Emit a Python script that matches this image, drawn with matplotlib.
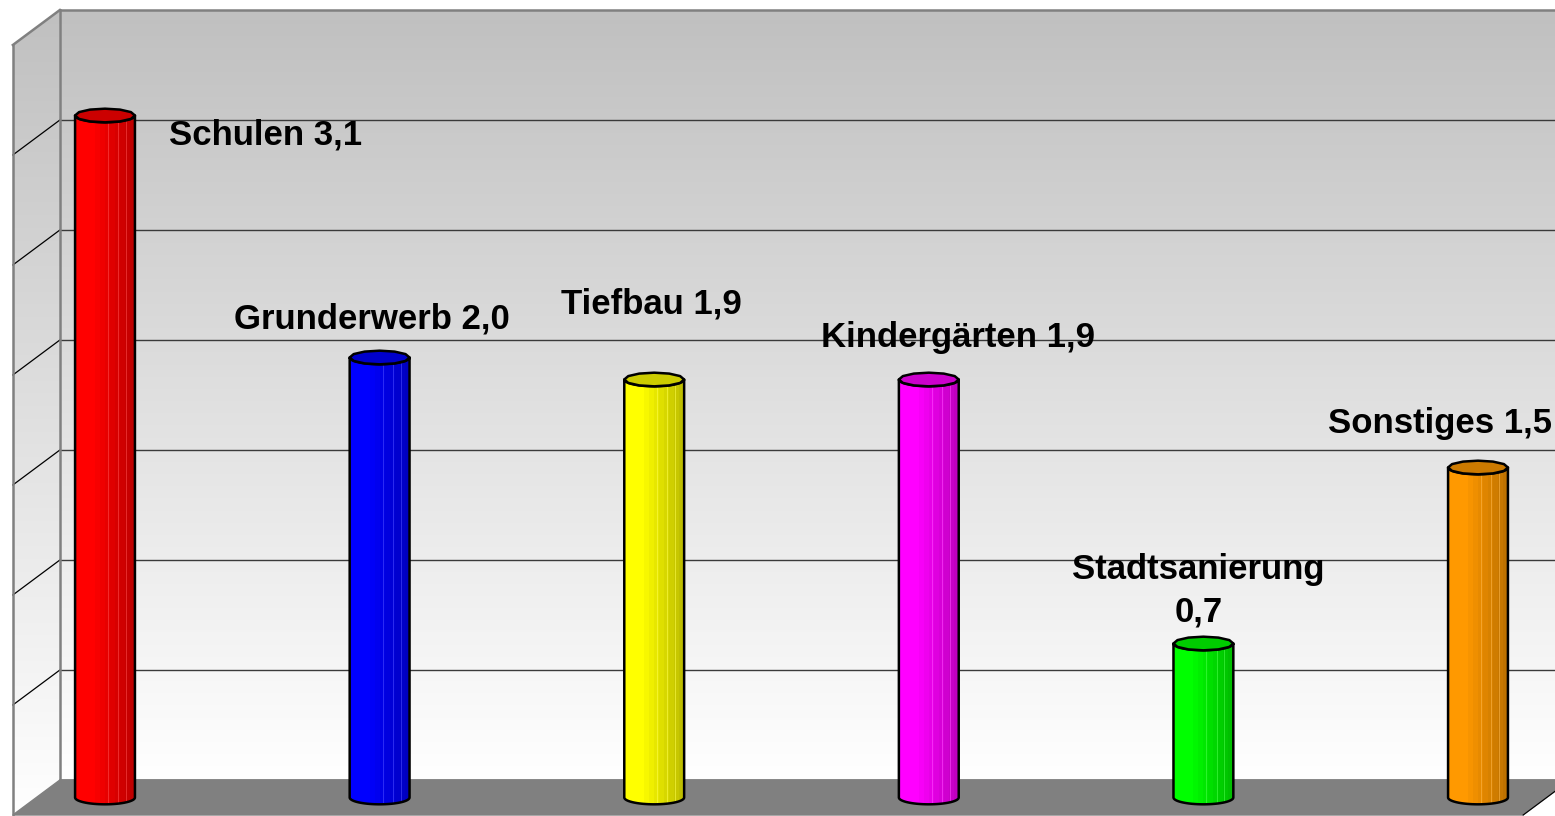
import numpy as np
import matplotlib
matplotlib.use("Agg")
import matplotlib.pyplot as plt
from matplotlib.patches import Polygon
from matplotlib.colors import to_rgb

# ---------------- data ----------------
categories = ["Schulen", "Grunderwerb", "Tiefbau", "Kindergärten", "Stadtsanierung", "Sonstiges"]
values = [3.1, 2.0, 1.9, 1.9, 0.7, 1.5]
bar_colors = ["#ff0000", "#0000ff", "#ffff00", "#ff00ff", "#00ff00", "#ff9900"]
grid_values = [0.5, 1.0, 1.5, 2.0, 2.5, 3.0]
y_top = 3.5

# ---------------- layout ----------------
label_sep = [" ", " ", " ", " ", "\n", " "]
label_dx = [0.586, -0.028, -0.012, 0.108, -0.018, -0.138]
label_dy = [-0.134, 0.13, 0.302, 0.148, 0.098, 0.157]

W, H = 1555, 816
fig = plt.figure(figsize=(W / 100, H / 100), dpi=100)
ax = fig.add_axes([0, 0, 1, 1])
ax.set_xlim(-0.3824, 5.2804)
ax.set_ylim(-0.0841, 3.625)
ax.axis("off")

# depth offsets (full depth, data units) front -> back
DX, DY = 0.1712, 0.159
XL, XR = -0.25, 5.25


def P(x, y, d):
    """point at depth d (-0.5 front .. 0.5 back) relative to bar plane"""
    return (x + d * DX, y + d * DY)


def gradient_fill(poly_pts, zorder):
    poly = Polygon(poly_pts, closed=True, facecolor="none", edgecolor="none")
    ax.add_patch(poly)
    ys = np.linspace(0, 1, 256)
    g = 1.0 - (1.0 - 192 / 255) * ys
    img = np.dstack([g, g, g]).reshape(256, 1, 3)
    xs = [p[0] for p in poly_pts]
    yv = [p[1] for p in poly_pts]
    im = ax.imshow(img, extent=[min(xs), max(xs), min(yv), max(yv)], origin="lower",
                   aspect="auto", interpolation="bilinear", zorder=zorder)
    im.set_clip_path(poly)


back_wall = [P(XL, 0, 0.5), P(XR, 0, 0.5), P(XR, y_top, 0.5), P(XL, y_top, 0.5)]
side_wall = [P(XL, 0, -0.5), P(XL, 0, 0.5), P(XL, y_top, 0.5), P(XL, y_top, -0.5)]
floor = [P(XL, 0, -0.5), P(XL, 0, 0.5), P(XR, 0, 0.5), P(XR, 0, -0.5)]

gradient_fill(back_wall, 1)
gradient_fill(side_wall, 1)
ax.add_patch(Polygon(floor, closed=True, facecolor="#808080", edgecolor="#808080", lw=1, zorder=2))

# gridlines
for g in grid_values:
    a, b = P(XL, g, 0.5), P(XR, g, 0.5)
    ax.plot([a[0], b[0]], [a[1], b[1]], color="#3a3a3a", lw=1.0, zorder=3)
    c, d = P(XL, g, -0.5), P(XL, g, 0.5)
    ax.plot([c[0], d[0]], [c[1], d[1]], color="#000000", lw=0.9, zorder=3)

# wall borders
edge_kw = dict(color="#808080", lw=1.8, zorder=3, solid_capstyle="projecting")
for seg in [
    (P(XL, 0, 0.5), P(XL, y_top, 0.5)),
    (P(XL, y_top, 0.5), P(XR, y_top, 0.5)),
    (P(XL, 0, -0.5), P(XL, y_top, -0.5)),
    (P(XL, y_top, -0.5), P(XL, y_top, 0.5)),
    (P(XL, 0, 0.5), P(XR, 0, 0.5)),
]:
    ax.plot([seg[0][0], seg[1][0]], [seg[0][1], seg[1][1]], **edge_kw)
a, b = P(XR, 0, 0.5), P(XR, 0, -0.5)
ax.plot([a[0], b[0]], [a[1], b[1]], color="#000000", lw=0.8, zorder=3)

# ---------------- cylinders ----------------
HW = 0.109      # half width (data)
EH = 0.031      # ellipse half height (data)
n_arc = 40
theta = np.linspace(np.pi, 2 * np.pi, n_arc)

ncol = 120
t = np.linspace(0, 1, ncol)
facet = np.floor(t * 12) / 12
fac = 1.0 - 0.28 * np.clip((facet - 0.25) / 0.75, 0, 1)
light_lines = [0.55, 0.72, 0.85]

for i, (v, col) in enumerate(zip(values, bar_colors)):
    xc = i
    base = np.array(to_rgb(col))
    bottom_arc = np.column_stack([xc + HW * np.cos(theta), 0 + EH * np.sin(theta)])
    top_arc = np.column_stack([xc + HW * np.cos(theta[::-1]), v + EH * np.sin(theta[::-1])])
    body = np.vstack([[xc - HW, v], bottom_arc, [xc + HW, v], top_arc])
    body_patch = Polygon(body, closed=True, facecolor="none", edgecolor="none", zorder=5)
    ax.add_patch(body_patch)
    img = (base[None, :] * fac[:, None])[None, :, :]
    im = ax.imshow(img, extent=[xc - HW, xc + HW, -EH, v], origin="lower", aspect="auto",
                   interpolation="nearest", zorder=5)
    im.set_clip_path(body_patch)
    lc = base * 0.7 + 0.3
    for lt in light_lines:
        xx = xc - HW + 2 * HW * lt
        ln, = ax.plot([xx, xx], [-EH, v], color=lc, lw=0.5, alpha=0.8, zorder=5.5)
        ln.set_clip_path(body_patch)
    ax.add_patch(Polygon(body, closed=True, facecolor="none", edgecolor="black", lw=1.8,
                         joinstyle="round", zorder=6))
    ang = np.linspace(0, 2 * np.pi, 13)[:-1]
    top = np.column_stack([xc + HW * np.cos(ang), v + EH * np.sin(ang)])
    ax.add_patch(Polygon(top, closed=True, facecolor=base * 0.8, edgecolor="black", lw=1.8,
                         joinstyle="round", zorder=7))

# ---------------- labels ----------------
for i, (cat, v) in enumerate(zip(categories, values)):
    txt = f"{cat}{label_sep[i]}{v:.1f}".replace(".", ",")
    ax.text(i + label_dx[i], v + label_dy[i], txt, ha="center", va="baseline",
            multialignment="center",
            family=["Liberation Sans", "DejaVu Sans"], fontweight="bold", fontsize=25,
            linespacing=1.38, color="black", zorder=10)

fig.savefig("out.png", dpi=100)
